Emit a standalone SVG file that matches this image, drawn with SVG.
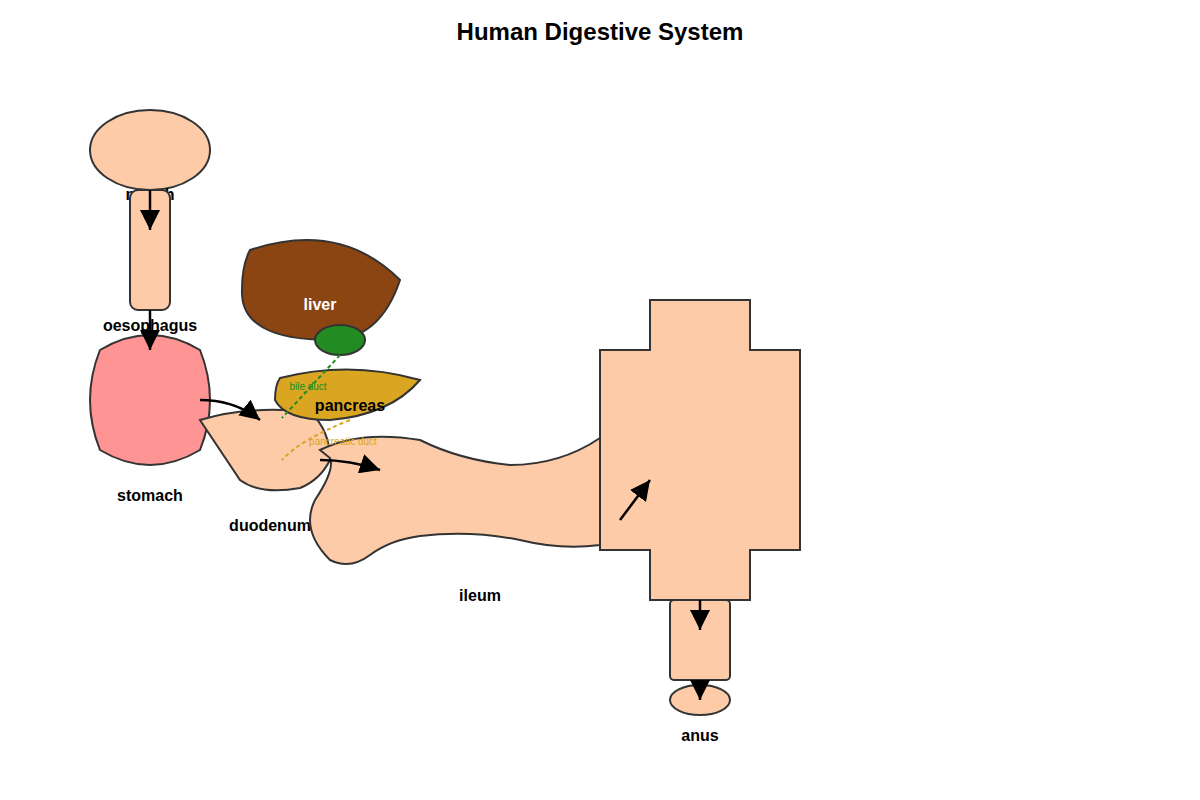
<svg xmlns="http://www.w3.org/2000/svg" width="1200" height="800" viewBox="0 0 1200 800">
<style>
.o{stroke:#333;stroke-width:2}
.lb{font-family:"Liberation Sans",Arial,sans-serif;font-weight:bold;font-size:16px;text-anchor:middle}
.c{fill:none;stroke:#000;stroke-width:2.5}
</style>
<defs>
<marker id="ar" viewBox="0 0 10 10" refX="10" refY="5" markerWidth="8" markerHeight="8" markerUnits="strokeWidth" orient="auto"><path d="M0,0L10,5L0,10z" fill="#000"/></marker>
</defs>
<rect width="1200" height="800" fill="#fff"/>
<text x="600" y="40" class="lb" style="font-size:24px">Human Digestive System</text>
<g id="mouth"><ellipse cx="150" cy="150" rx="60" ry="40" fill="#fecba8" class="o"/><text x="150" y="200" class="lb">mouth</text></g>
<g id="oesophagus"><text x="150" y="331" class="lb">oesophagus</text><rect x="130" y="190" width="40" height="120" rx="8" fill="#fecba8" class="o"/></g>
<g id="stomach"><path d="M100,350 Q150,320 200,350 Q220,400 200,450 Q150,480 100,450 Q80,400 100,350Z" fill="#ff9494" class="o"/><text x="150" y="501" class="lb">stomach</text></g>
<g id="liver"><path d="M250,250 Q340,220 400,280 Q380,340 330,340 Q240,340 242,290 Q242,265 250,250Z" fill="#8b4513" class="o"/><text x="320" y="310" class="lb" fill="#fff">liver</text></g>
<g id="gallbladder"><ellipse cx="340" cy="340" rx="25" ry="15" fill="#228b22" class="o"/></g>
<g id="duodenum"><path d="M200,420 Q250,405 310,412 Q330,430 330,460 Q320,480 300,488 Q260,495 240,480Z" fill="#fecba8" class="o"/><text x="270" y="531" class="lb">duodenum</text></g>
<g id="pancreas"><path d="M280,378 Q350,360 420,380 Q390,415 330,420 Q285,420 275,400 Q275,385 280,378Z" fill="#daa520" class="o"/><text x="350" y="411" class="lb">pancreas</text></g>
<g id="ileum"><path d="M320,450 Q360,430 420,440 Q460,460 510,465 Q560,465 600,438 L600,545 Q560,550 520,540 Q470,530 420,536 Q390,540 370,555 Q350,570 330,560 Q300,530 315,500 Q335,470 330,458Z" fill="#fecba8" class="o"/><text x="480" y="601" class="lb">ileum</text></g>
<g id="large_intestine"><path d="M650,300H750V350H800V550H750V600H650V550H600V350H650Z" fill="#fecba8" class="o"/></g>
<g id="rectum"><rect x="670" y="600" width="60" height="80" rx="4" fill="#fecba8" class="o"/></g>
<g id="anus"><ellipse cx="700" cy="700" rx="30" ry="15" fill="#fecba8" class="o"/><text x="700" y="741" class="lb">anus</text></g>
<g id="connectors">
<path d="M340,355 L282,418" fill="none" stroke="#228b22" stroke-width="2" stroke-dasharray="4,3"/>
<path d="M350,420 Q300,440 282,460" fill="none" stroke="#daa520" stroke-width="2" stroke-dasharray="4,3"/>
<text x="308" y="390" font-family="Liberation Sans,Arial,sans-serif" font-size="10" text-anchor="middle" fill="#228b22">bile duct</text>
<text x="343" y="445" font-family="Liberation Sans,Arial,sans-serif" font-size="10" text-anchor="middle" fill="#daa520">pancreatic duct</text>
<path class="c" d="M150,190V230" marker-end="url(#ar)"/>
<path class="c" d="M150,310V350" marker-end="url(#ar)"/>
<path class="c" d="M200,400 Q235,400 260,420" marker-end="url(#ar)"/>
<path class="c" d="M320,460 Q350,460 380,470" marker-end="url(#ar)"/>
<path class="c" d="M620,520 L650,480" marker-end="url(#ar)"/>
<path class="c" d="M700,600V630" marker-end="url(#ar)"/>
<path class="c" d="M700,680V700" marker-end="url(#ar)"/>
</g>
</svg>
